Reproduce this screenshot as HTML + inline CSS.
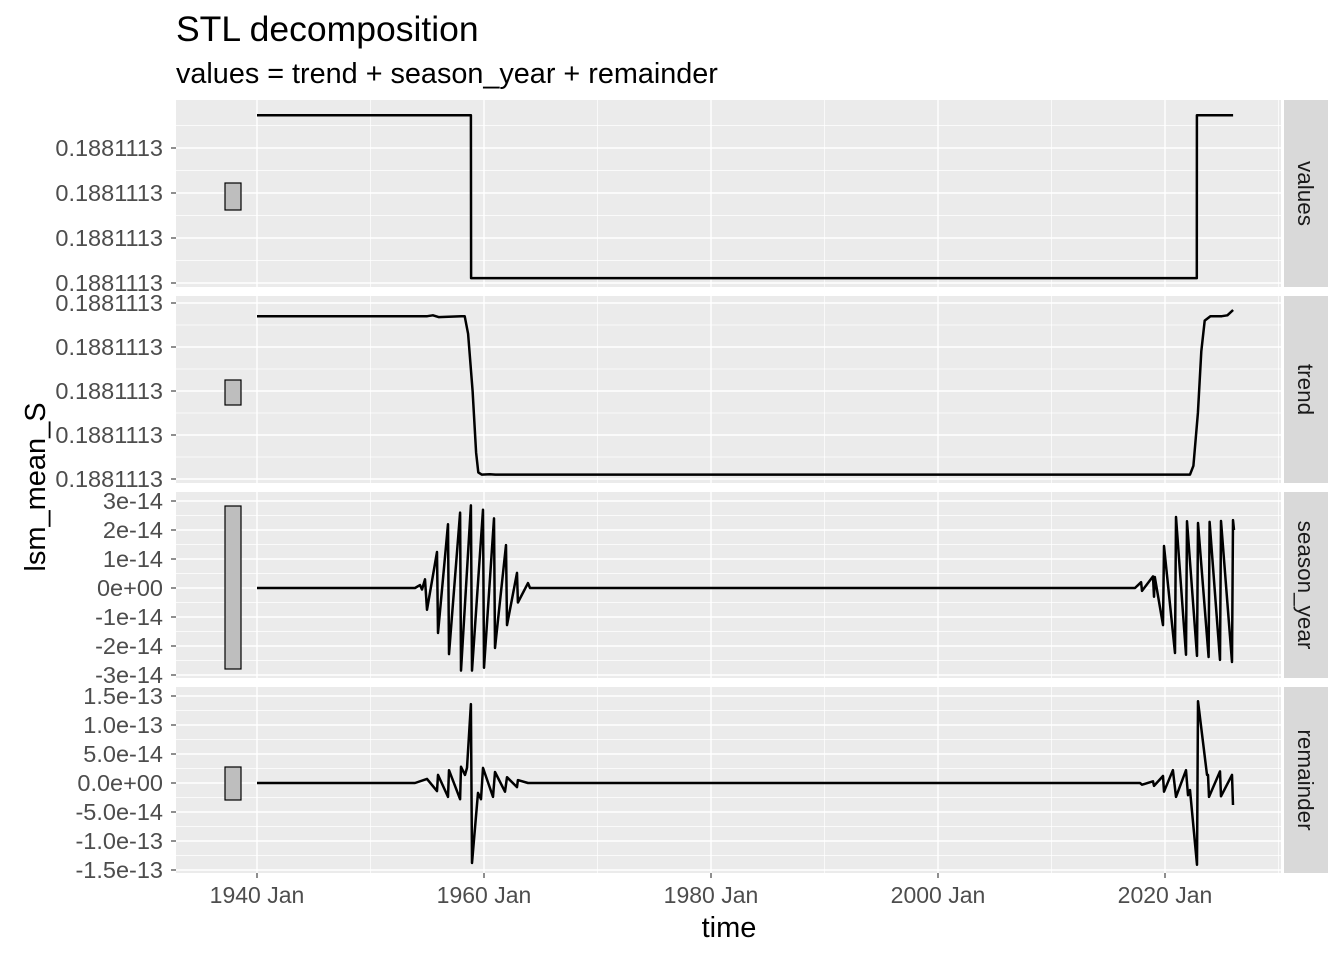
<!DOCTYPE html>
<html><head><meta charset="utf-8"><style>
body{margin:0;background:#fff}
svg{display:block;font-family:"Liberation Sans",Arial,sans-serif}
</style></head><body>
<svg id="c" width="1344" height="960"></svg>
<script>
// ---- data (years since 1940) ----
const valuesT=[0,18.85,18.86,82.8,82.81,86.0];
const valuesV=[3.73,3.73,0.11,0.11,3.73,3.73];
const trendT=[0,10,15,15.5,16,18,18.3,18.6,19.0,19.3,19.5,19.8,20.5,21,82.2,82.5,82.9,83.2,83.5,84,85,85.5,86];
const trendV=[3.7,3.7,3.7,3.72,3.68,3.7,3.7,3.3,2.0,0.6,0.15,0.1,0.11,0.1,0.1,0.3,1.5,2.9,3.6,3.7,3.7,3.72,3.84];
const seasonT=[0,13.92,14.36,14.54,14.80,14.98,15.86,15.95,16.83,16.92,17.89,17.97,18.85,18.94,19.91,20.0,20.88,20.97,21.94,22.03,22.91,22.99,23.88,24.05,77.36,77.89,77.97,78.94,79.03,79.1,79.82,79.91,80.88,80.97,81.85,81.94,82.82,82.91,83.84,83.93,84.85,84.93,85.90,85.99,86.08];
const seasonV=[0,0,0.1,-0.05,0.3,-0.75,1.24,-1.55,2.2,-2.28,2.6,-2.85,2.85,-2.85,2.7,-2.75,2.4,-2.07,1.48,-1.28,0.52,-0.5,0.17,0,0,0.2,-0.1,0.4,-0.3,0.38,-1.28,1.45,-2.24,2.45,-2.3,2.3,-2.34,2.24,-2.38,2.28,-2.48,2.31,-2.55,2.34,2.0];
const remT=[0,13.92,14.98,15.86,15.95,16.83,16.92,17.89,17.97,18.33,18.50,18.85,18.94,19.47,19.74,19.91,20.79,20.97,21.85,22.03,22.91,22.99,23.88,77.80,77.97,78.94,79.03,79.82,79.91,80.70,80.97,81.85,82.03,82.20,82.82,82.91,83.70,83.79,83.88,84.85,84.93,85.90,85.99];
const remV=[0,0,0.7,-1.4,1.4,-2.4,2.2,-2.8,2.8,1.4,2.6,13.6,-13.8,-1.7,-2.8,2.6,-2.4,1.9,-1.5,1.0,-0.7,0.5,0,0,-0.3,0.3,-0.5,1.2,-1.5,2.2,-2.4,2.2,-2.1,-1.2,-14.1,14.1,1.4,1.4,-2.4,2.0,-2.3,1.4,-3.8];
const xTicks=[0,20,40,60,80];
const xTickLabels=["1940 Jan","1960 Jan","1980 Jan","2000 Jan","2020 Jan"];
const valTicks=[0,1,2,3], valLabels=["0.1881113","0.1881113","0.1881113","0.1881113"];
const trTicks=[0,1,2,3,4], trLabels=["0.1881113","0.1881113","0.1881113","0.1881113","0.1881113"];
const seTicks=[-3,-2,-1,0,1,2,3], seLabels=["-3e-14","-2e-14","-1e-14","0e+00","1e-14","2e-14","3e-14"];
const reTicks=[-15,-10,-5,0,5,10,15], reLabels=["-1.5e-13","-1.0e-13","-5.0e-14","0.0e+00","5.0e-14","1.0e-13","1.5e-13"];

const NS="http://www.w3.org/2000/svg", svg=document.getElementById('c');
function el(t,a,p){const e=document.createElementNS(NS,t);for(const k in a)e.setAttribute(k,a[k]);(p||svg).appendChild(e);return e;}
const PL=176,PR=1281;
const X=v=>257+v*11.35;
const panels=[
 {name:"values",top:100,bot:287,z:283,s:45,T:valuesT,V:valuesV,ticks:valTicks,labels:valLabels,box:[183,210]},
 {name:"trend",top:296,bot:483,z:479,s:44,T:trendT,V:trendV,ticks:trTicks,labels:trLabels,box:[380,405]},
 {name:"season_year",top:492,bot:678,z:588,s:29,T:seasonT,V:seasonV,ticks:seTicks,labels:seLabels,box:[506,669]},
 {name:"remainder",top:687,bot:873,z:783,s:5.8,T:remT,V:remV,ticks:reTicks,labels:reLabels,box:[767,800]}
];
panels.forEach(p=>{
 const Y=v=>p.z-v*p.s;
 const g=el('g',{});
 
 
 el('rect',{x:PL,y:p.top,width:PR-PL,height:p.bot-p.top,fill:'#ebebeb'},g);
 const step=p.ticks[1]-p.ticks[0];
 for(let v=p.ticks[0]-step*1.5;v<=p.ticks[p.ticks.length-1]+step*1.5;v+=step){const y=Y(v);if(y>p.top&&y<p.bot)el('line',{x1:PL,x2:PR,y1:y,y2:y,stroke:'#fff','stroke-width':0.7},g);}
 for(let v=-10;v<=100;v+=20){const x=X(v);if(x>PL&&x<PR)el('line',{x1:x,x2:x,y1:p.top,y2:p.bot,stroke:'#fff','stroke-width':0.7},g);}
 p.ticks.forEach((v,i)=>{const y=Y(v);
  el('line',{x1:PL,x2:PR,y1:y,y2:y,stroke:'#fff','stroke-width':1.4},g);
  el('line',{x1:PL-5,x2:PL,y1:y,y2:y,stroke:'#333','stroke-width':1.1},g);
  const t=el('text',{x:PL-13,y:y+8,'text-anchor':'end','font-size':23.5,fill:'#4d4d4d'},g);t.textContent=p.labels[i];
  
  
 });
 xTicks.forEach(v=>{const x=X(v);el('line',{x1:x,x2:x,y1:p.top,y2:p.bot,stroke:'#fff','stroke-width':1.4},g);});
 const b=el('rect',{x:225,y:p.box[0],width:16,height:p.box[1]-p.box[0],fill:'#bebebe',stroke:'#000','stroke-width':1.2},g);
 
 
 const d=p.T.map((t,i)=>(i?'L':'M')+X(t).toFixed(1)+','+Y(p.V[i]).toFixed(1)).join('');
 const ln=el('path',{d:d,fill:'none',stroke:'#000','stroke-width':2.5,'stroke-linejoin':'round'},g);
 
 
 el('rect',{x:1284,y:p.top,width:44,height:p.bot-p.top,fill:'#d9d9d9'},g);
 const cy=(p.top+p.bot)/2;
 const st=el('text',{x:1306,y:cy,'text-anchor':'middle','font-size':22.5,fill:'#1a1a1a',transform:`rotate(90 1306 ${cy}) translate(0 8)`},g);
 st.textContent=p.name;
 
 
});
xTicks.forEach((v,i)=>{const x=X(v);
 el('line',{x1:x,x2:x,y1:873,y2:878,stroke:'#333','stroke-width':1.1});
 const t=el('text',{x:x,y:903,'text-anchor':'middle','font-size':23,fill:'#4d4d4d'});t.textContent=xTickLabels[i];
 
 
});
function txt(s,a,n){const t=el('text',a);t.textContent=s;}
txt("STL decomposition",{x:176,y:41,'font-size':35.5,fill:'#000'},'chart-title');
txt("values = trend + season_year + remainder",{x:176,y:83,'font-size':28.8,fill:'#000'},'chart-subtitle');
txt("time",{x:729,y:937,'text-anchor':'middle','font-size':29,fill:'#000'},'x-axis-title');
txt("lsm_mean_S",{x:0,y:0,'text-anchor':'middle','font-size':29,fill:'#000',transform:'translate(45 487) rotate(-90)'},'y-axis-title');
</script>
</body></html>
